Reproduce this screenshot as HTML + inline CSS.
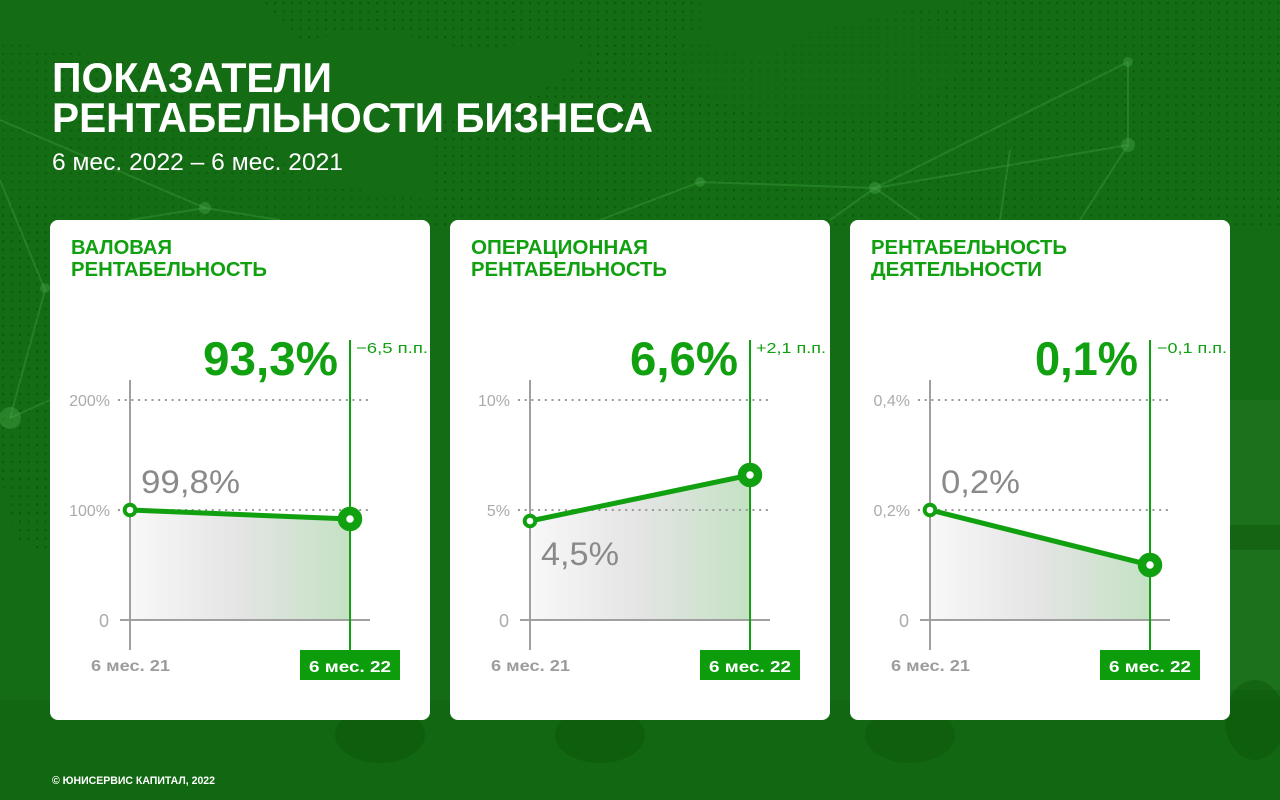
<!DOCTYPE html>
<html><head><meta charset="utf-8">
<style>
html,body{margin:0;padding:0;width:1280px;height:800px;overflow:hidden;background:#146c14;}
svg{display:block;}
text{font-family:"Liberation Sans",sans-serif;}
</style></head>
<body>
<svg width="1280" height="800" viewBox="0 0 1280 800" xmlns="http://www.w3.org/2000/svg">
<defs>
  <pattern id="dots" x="0" y="0" width="8.5" height="8.5" patternUnits="userSpaceOnUse">
    <rect x="2" y="2" width="2.2" height="2.2" fill="#0a4f0a"/>
  </pattern>
  <linearGradient id="area" x1="0" y1="0" x2="1" y2="0">
    <stop offset="0" stop-color="#f8f8f8"/>
    <stop offset="0.5" stop-color="#e4e4e4"/>
    <stop offset="1" stop-color="#c4e2c4"/>
  </linearGradient>
</defs>

<!-- background -->
<rect width="1280" height="800" fill="#146c14"/>
<rect y="700" width="1280" height="100" fill="#116611" opacity="0.7"/>
<!-- dotted map regions -->
<g opacity="0.6">
  <polygon points="260,0 700,0 700,30 620,60 560,40 470,50 380,30 300,40" fill="url(#dots)"/>
  <polygon points="600,45 700,40 760,60 820,30 900,10 1000,0 1280,0 1280,230 430,230 430,120 520,100 560,80" fill="url(#dots)"/>
  <polygon points="0,200 50,200 50,550 20,545 5,500 0,470" fill="url(#dots)"/>
  <polygon points="0,40 120,60 200,90 260,140 300,180 430,200 430,220 0,220" fill="url(#dots)" opacity="0.7"/>
</g>
<ellipse cx="820" cy="60" rx="140" ry="60" fill="#146c14" opacity="0.6"/>
<!-- network lines -->
<g stroke="#4fae4f" stroke-opacity="0.3" stroke-width="2" fill="none">
  <polyline points="1128,62 1128,145 875,188 1128,62"/>
  <line x1="875" y1="188" x2="700" y2="182"/>
  <line x1="875" y1="188" x2="830" y2="220"/>
  <line x1="1128" y1="145" x2="1080" y2="220"/>
  <line x1="875" y1="188" x2="920" y2="220"/>
  <line x1="1010" y1="150" x2="1000" y2="220"/>
  <line x1="700" y1="182" x2="600" y2="220"/>
  <line x1="0" y1="120" x2="205" y2="208"/>
  <line x1="205" y1="208" x2="280" y2="220"/>
  <line x1="205" y1="208" x2="130" y2="220"/>
  <line x1="10" y1="418" x2="50" y2="400"/>
  <line x1="0" y1="180" x2="45" y2="290"/>
  <line x1="45" y1="290" x2="10" y2="418"/>
</g>
<g fill="#4fae4f" fill-opacity="0.35">
  <circle cx="1128" cy="62" r="5"/><circle cx="1128" cy="145" r="7"/>
  <circle cx="875" cy="188" r="6"/><circle cx="700" cy="182" r="5"/>
  <circle cx="205" cy="208" r="6"/><circle cx="45" cy="288" r="5"/>
  <circle cx="10" cy="418" r="11"/>
</g>
<!-- truck hints -->
<rect x="1230" y="400" width="50" height="290" fill="#2a7f2a" opacity="0.35"/>
<rect x="1230" y="525" width="50" height="25" fill="#0b4f0b" opacity="0.4"/>
<ellipse cx="1255" cy="720" rx="30" ry="40" fill="#0b4f0b" opacity="0.4"/>
<ellipse cx="380" cy="735" rx="45" ry="28" fill="#0b4f0b" opacity="0.4"/>
<ellipse cx="600" cy="735" rx="45" ry="28" fill="#0b4f0b" opacity="0.4"/>
<ellipse cx="910" cy="735" rx="45" ry="28" fill="#0b4f0b" opacity="0.35"/>

<!-- title -->
<text x="52" y="92" font-size="42" font-weight="bold" fill="#ffffff" textLength="280" lengthAdjust="spacingAndGlyphs">ПОКАЗАТЕЛИ</text>
<text x="52" y="132" font-size="42" font-weight="bold" fill="#ffffff" textLength="601" lengthAdjust="spacingAndGlyphs">РЕНТАБЕЛЬНОСТИ БИЗНЕСА</text>
<text x="52" y="170" font-size="24" fill="#ffffff" textLength="291" lengthAdjust="spacingAndGlyphs">6 мес. 2022 – 6 мес. 2021</text>
<text x="52" y="784" font-size="11" font-weight="bold" fill="#ffffff" textLength="163" lengthAdjust="spacingAndGlyphs">© ЮНИСЕРВИС КАПИТАЛ, 2022</text>

<!-- Card 1 -->
<g>
  <rect x="50" y="220" width="380" height="500" rx="8" fill="#ffffff"/>
  <text x="71" y="254" font-size="20" font-weight="bold" fill="#10a010" textLength="101" lengthAdjust="spacingAndGlyphs">ВАЛОВАЯ</text>
  <text x="71" y="276" font-size="20" font-weight="bold" fill="#10a010" textLength="196" lengthAdjust="spacingAndGlyphs">РЕНТАБЕЛЬНОСТЬ</text>
  <polygon points="130,510 350,519 350,620 130,620" fill="url(#area)"/>
  <line x1="118" y1="400" x2="372" y2="400" stroke="#9a9a9a" stroke-width="2" stroke-dasharray="2 4.7"/>
  <line x1="118" y1="510" x2="372" y2="510" stroke="#9a9a9a" stroke-width="2" stroke-dasharray="2 4.7"/>
  <line x1="120" y1="620" x2="370" y2="620" stroke="#a0a0a0" stroke-width="2"/>
  <line x1="130" y1="380" x2="130" y2="650" stroke="#a0a0a0" stroke-width="2"/>
  <line x1="350" y1="340" x2="350" y2="652" stroke="#10a010" stroke-width="2"/>
  <text x="110" y="406" font-size="16" fill="#ababab" text-anchor="end">200%</text>
  <text x="110" y="516" font-size="16" fill="#ababab" text-anchor="end">100%</text>
  <text x="109" y="627" font-size="18" fill="#ababab" text-anchor="end">0</text>
  <text x="141" y="493" font-size="32" fill="#8a8a8a" textLength="99" lengthAdjust="spacingAndGlyphs">99,8%</text>
  <polyline points="130,510 350,519" stroke="#10a010" stroke-width="5" fill="none"/>
  <circle cx="130" cy="510" r="5.3" fill="#fff" stroke="#10a010" stroke-width="4"/>
  <circle cx="350" cy="519" r="8" fill="#fff" stroke="#10a010" stroke-width="8.5"/>
  <text x="338" y="375" font-size="47" font-weight="bold" fill="#10a010" text-anchor="end" textLength="135" lengthAdjust="spacingAndGlyphs">93,3%</text>
  <text x="356" y="353" font-size="15" fill="#10a010" textLength="72" lengthAdjust="spacingAndGlyphs">−6,5 п.п.</text>
  <text x="91" y="671" font-size="16" font-weight="bold" fill="#9c9c9c" textLength="79" lengthAdjust="spacingAndGlyphs">6 мес. 21</text>
  <rect x="300" y="650" width="100" height="30" fill="#0c9c0c"/>
  <text x="309" y="672" font-size="16" font-weight="bold" fill="#ffffff" textLength="82" lengthAdjust="spacingAndGlyphs">6 мес. 22</text>
</g>

<!-- Card 2 -->
<g>
  <rect x="450" y="220" width="380" height="500" rx="8" fill="#ffffff"/>
  <text x="471" y="254" font-size="20" font-weight="bold" fill="#10a010" textLength="177" lengthAdjust="spacingAndGlyphs">ОПЕРАЦИОННАЯ</text>
  <text x="471" y="276" font-size="20" font-weight="bold" fill="#10a010" textLength="196" lengthAdjust="spacingAndGlyphs">РЕНТАБЕЛЬНОСТЬ</text>
  <polygon points="530,521 750,475 750,620 530,620" fill="url(#area)"/>
  <line x1="518" y1="400" x2="772" y2="400" stroke="#9a9a9a" stroke-width="2" stroke-dasharray="2 4.7"/>
  <line x1="518" y1="510" x2="772" y2="510" stroke="#9a9a9a" stroke-width="2" stroke-dasharray="2 4.7"/>
  <line x1="520" y1="620" x2="770" y2="620" stroke="#a0a0a0" stroke-width="2"/>
  <line x1="530" y1="380" x2="530" y2="650" stroke="#a0a0a0" stroke-width="2"/>
  <line x1="750" y1="340" x2="750" y2="652" stroke="#10a010" stroke-width="2"/>
  <text x="510" y="406" font-size="16" fill="#ababab" text-anchor="end">10%</text>
  <text x="510" y="516" font-size="16" fill="#ababab" text-anchor="end">5%</text>
  <text x="509" y="627" font-size="18" fill="#ababab" text-anchor="end">0</text>
  <text x="541" y="565" font-size="32" fill="#8a8a8a" textLength="78" lengthAdjust="spacingAndGlyphs">4,5%</text>
  <polyline points="530,521 750,475" stroke="#10a010" stroke-width="5" fill="none"/>
  <circle cx="530" cy="521" r="5.3" fill="#fff" stroke="#10a010" stroke-width="4"/>
  <circle cx="750" cy="475" r="8" fill="#fff" stroke="#10a010" stroke-width="8.5"/>
  <text x="738" y="375" font-size="47" font-weight="bold" fill="#10a010" text-anchor="end" textLength="108" lengthAdjust="spacingAndGlyphs">6,6%</text>
  <text x="756" y="353" font-size="15" fill="#10a010" textLength="70" lengthAdjust="spacingAndGlyphs">+2,1 п.п.</text>
  <text x="491" y="671" font-size="16" font-weight="bold" fill="#9c9c9c" textLength="79" lengthAdjust="spacingAndGlyphs">6 мес. 21</text>
  <rect x="700" y="650" width="100" height="30" fill="#0c9c0c"/>
  <text x="709" y="672" font-size="16" font-weight="bold" fill="#ffffff" textLength="82" lengthAdjust="spacingAndGlyphs">6 мес. 22</text>
</g>

<!-- Card 3 -->
<g>
  <rect x="850" y="220" width="380" height="500" rx="8" fill="#ffffff"/>
  <text x="871" y="254" font-size="20" font-weight="bold" fill="#10a010" textLength="196" lengthAdjust="spacingAndGlyphs">РЕНТАБЕЛЬНОСТЬ</text>
  <text x="871" y="276" font-size="20" font-weight="bold" fill="#10a010" textLength="171" lengthAdjust="spacingAndGlyphs">ДЕЯТЕЛЬНОСТИ</text>
  <polygon points="930,510 1150,565 1150,620 930,620" fill="url(#area)"/>
  <line x1="918" y1="400" x2="1172" y2="400" stroke="#9a9a9a" stroke-width="2" stroke-dasharray="2 4.7"/>
  <line x1="918" y1="510" x2="1172" y2="510" stroke="#9a9a9a" stroke-width="2" stroke-dasharray="2 4.7"/>
  <line x1="920" y1="620" x2="1170" y2="620" stroke="#a0a0a0" stroke-width="2"/>
  <line x1="930" y1="380" x2="930" y2="650" stroke="#a0a0a0" stroke-width="2"/>
  <line x1="1150" y1="340" x2="1150" y2="652" stroke="#10a010" stroke-width="2"/>
  <text x="910" y="406" font-size="16" fill="#ababab" text-anchor="end">0,4%</text>
  <text x="910" y="516" font-size="16" fill="#ababab" text-anchor="end">0,2%</text>
  <text x="909" y="627" font-size="18" fill="#ababab" text-anchor="end">0</text>
  <text x="941" y="493" font-size="32" fill="#8a8a8a" textLength="79" lengthAdjust="spacingAndGlyphs">0,2%</text>
  <polyline points="930,510 1150,565" stroke="#10a010" stroke-width="5" fill="none"/>
  <circle cx="930" cy="510" r="5.3" fill="#fff" stroke="#10a010" stroke-width="4"/>
  <circle cx="1150" cy="565" r="8" fill="#fff" stroke="#10a010" stroke-width="8.5"/>
  <text x="1138" y="375" font-size="47" font-weight="bold" fill="#10a010" text-anchor="end" textLength="103" lengthAdjust="spacingAndGlyphs">0,1%</text>
  <text x="1157" y="353" font-size="15" fill="#10a010" textLength="70" lengthAdjust="spacingAndGlyphs">−0,1 п.п.</text>
  <text x="891" y="671" font-size="16" font-weight="bold" fill="#9c9c9c" textLength="79" lengthAdjust="spacingAndGlyphs">6 мес. 21</text>
  <rect x="1100" y="650" width="100" height="30" fill="#0c9c0c"/>
  <text x="1109" y="672" font-size="16" font-weight="bold" fill="#ffffff" textLength="82" lengthAdjust="spacingAndGlyphs">6 мес. 22</text>
</g>
</svg>
</body></html>
